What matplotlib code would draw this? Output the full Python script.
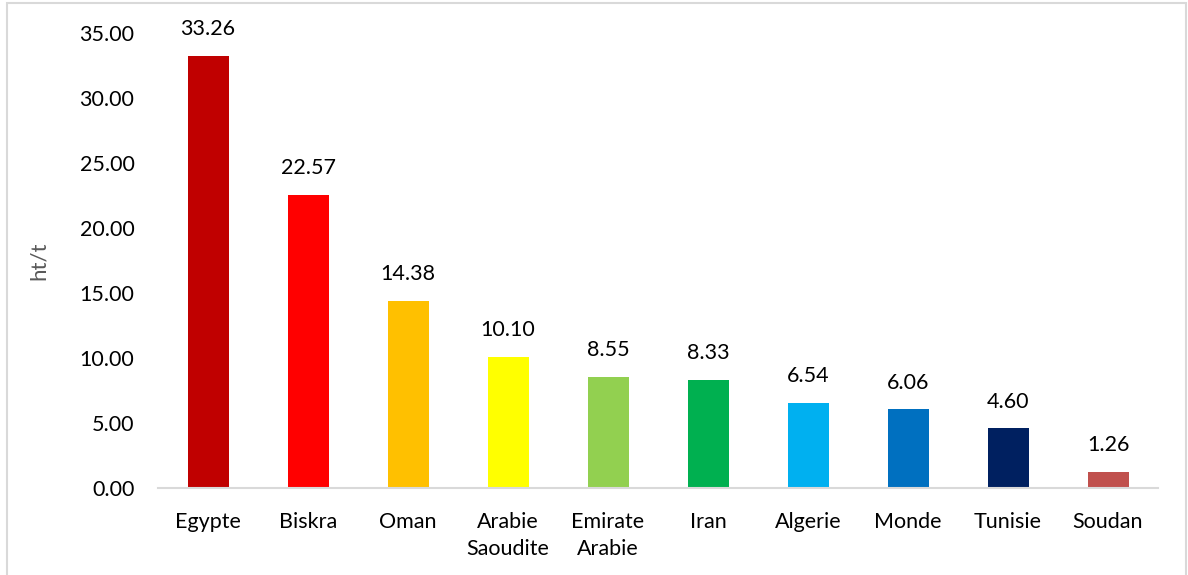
import matplotlib
matplotlib.use("Agg")
import matplotlib.pyplot as plt
from matplotlib.patches import Rectangle

categories = ["Egypte", "Biskra", "Oman", "Arabie\nSaoudite", "Emirate\nArabie",
              "Iran", "Algerie", "Monde", "Tunisie", "Soudan"]
values = [33.26, 22.57, 14.38, 10.10, 8.55, 8.33, 6.54, 6.06, 4.60, 1.26]
colors = ["#C00000", "#FF0000", "#FFC000", "#FFFF00", "#92D050",
          "#00B050", "#00B0F0", "#0070C0", "#002060", "#C0504D"]
yticks = [0, 5, 10, 15, 20, 25, 30, 35]

plt.rcParams['font.family'] = ['Lato', 'DejaVu Sans']

fig = plt.figure(figsize=(11.88, 5.75), dpi=100)
fig.patches.append(Rectangle((7/1188, -0.01), (1186-7)/1188, 1.01-3/575, transform=fig.transFigure,
                             fill=False, edgecolor="#D9D9D9", linewidth=1.5))
ax = fig.add_axes([158/1188, 1-488/575, 1000/1188, (488-33)/575])

x = list(range(len(categories)))
bars = ax.bar(x, values, width=0.41, color=colors)
for xi, v in zip(x, values):
    ax.annotate(f"{v:.2f}", (xi, v), xytext=(0, 12), textcoords="offset points",
                ha="center", va="bottom", fontsize=15.5, color="#000000")

ax.set_xlim(-0.5, len(categories) - 0.5)
ax.set_ylim(0, 35)
ax.set_yticks(yticks)
ax.set_yticklabels([f"{t:.2f}" for t in yticks], fontsize=15.5)
ax.set_xticks(x)
ax.set_xticklabels(categories, fontsize=15.5, linespacing=1.45)
ax.tick_params(axis='y', length=0, pad=17)
ax.tick_params(axis='x', length=0, pad=17)
for s in ["top", "right", "left"]:
    ax.spines[s].set_visible(False)
ax.spines["bottom"].set_color("#D9D9D9")
ax.spines["bottom"].set_linewidth(1.5)
ax.set_ylabel("ht/t", fontsize=16, color="#595959", labelpad=22)

fig.savefig("out.png", dpi=100)
